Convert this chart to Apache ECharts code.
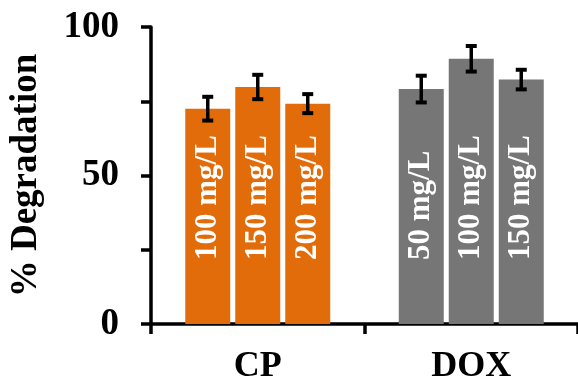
<!DOCTYPE html>
<html>
<head>
<meta charset="utf-8">
<script src="https://cdn.jsdelivr.net/npm/echarts@6/dist/echarts.min.js"></script>
<style>
html,body{margin:0;padding:0;background:#fff;}
#c{width:578px;height:385px;}
</style>
</head>
<body>
<div id="c"></div>
<script>
// ---- data ----
const categories = ['CP', 'DOX'];
const yTicks = [0, 50, 100];
const cpValues = [72.5, 79.8, 74.2];
const cpErrors = [4.0, 4.1, 3.2];
const cpLabels = ['100 mg/L', '150 mg/L', '200 mg/L'];
const doxValues = [79.1, 89.3, 82.3];
const doxErrors = [4.5, 4.3, 3.3];
const doxLabels = ['50 mg/L', '100 mg/L', '150 mg/L'];

// ---- style ----
const FONT = "'Liberation Serif','Times New Roman',serif";
const cpColor = '#e36c0a';
const doxColor = '#767676';
const barW = 45, gapPx = 5;

const chart = echarts.init(document.getElementById('c'));
const series = [];
for (let i = 0; i < 3; i++) {
  series.push({
    type: 'bar',
    barWidth: barW,
    barGap: (gapPx / barW * 100) + '%',
    data: [
      { value: cpValues[i], itemStyle: { color: cpColor }, label: { formatter: cpLabels[i] } },
      { value: doxValues[i], itemStyle: { color: doxColor }, label: { formatter: doxLabels[i] } }
    ],
    label: {
      show: true,
      position: 'insideBottom',
      distance: 64,
      rotate: 90,
      align: 'left',
      verticalAlign: 'middle',
      color: '#fff',
      fontFamily: FONT,
      fontWeight: 'bold',
      fontSize: 31
    },
    z: 2
  });
}
for (let i = 0; i < 3; i++) {
  const off = (i - 1) * (barW + gapPx);
  series.push({
    type: 'custom',
    z: 5,
    encode: { x: 0, y: 1 },
    data: [[0, cpValues[i], cpErrors[i]], [1, doxValues[i], doxErrors[i]]],
    renderItem: function (params, api) {
      const cat = api.value(0), v = api.value(1), e = api.value(2);
      const hi = api.coord([cat, v + e]);
      const lo = api.coord([cat, v - e]);
      const x = hi[0] + off;
      const cw = 5.5;
      return {
        type: 'group',
        children: [
          { type: 'line', shape: { x1: x, y1: hi[1], x2: x, y2: lo[1] }, style: { stroke: '#000', lineWidth: 3.5 } },
          { type: 'line', shape: { x1: x - cw, y1: hi[1], x2: x + cw, y2: hi[1] }, style: { stroke: '#000', lineWidth: 4 } },
          { type: 'line', shape: { x1: x - cw, y1: lo[1], x2: x + cw, y2: lo[1] }, style: { stroke: '#000', lineWidth: 4 } }
        ]
      };
    }
  });
}

chart.setOption({
  animation: false,
  backgroundColor: '#fff',
  grid: { left: 141, top: 27, width: 440, bottom: 59, containLabel: false },
  xAxis: {
    type: 'category',
    data: categories,
    boundaryGap: true,
    axisLine: { lineStyle: { color: '#000', width: 3.5 } },
    axisTick: { show: true, length: 10, lineStyle: { color: '#000', width: 3.5 } },
    axisLabel: { color: '#000', fontFamily: FONT, fontWeight: 'bold', fontSize: 36, margin: 25 }
  },
  yAxis: {
    type: 'value',
    min: 0, max: 100, interval: 25,
    name: '% Degradation',
    nameLocation: 'middle',
    nameGap: 106,
    nameTextStyle: { color: '#000', fontFamily: FONT, fontWeight: 'bold', fontSize: 37 },
    splitLine: { show: false },
    axisLine: { show: true, lineStyle: { color: '#000', width: 3.5 } },
    axisTick: { show: true, length: 10, lineStyle: { color: '#000', width: 3.5 } },
    axisLabel: {
      color: '#000', fontFamily: FONT, fontWeight: 'bold', fontSize: 37, margin: 32,
      formatter: v => (yTicks.indexOf(v) >= 0 ? String(v) : '')
    }
  },
  series: series
});
</script>
</body>
</html>
